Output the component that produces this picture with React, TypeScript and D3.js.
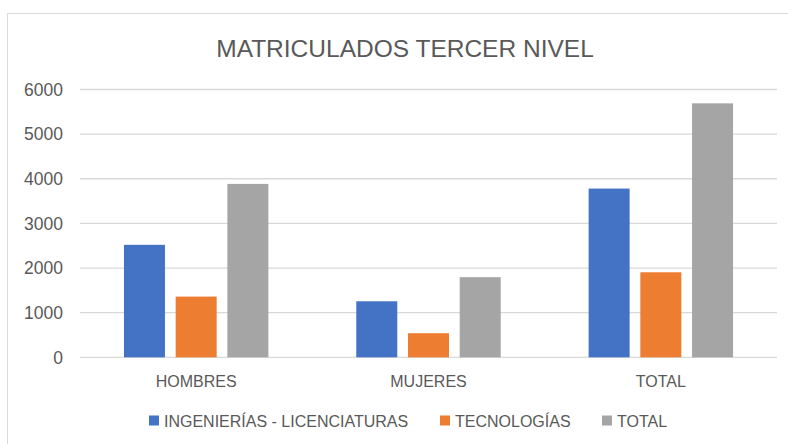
import * as d3 from "d3";

const categories = ["HOMBRES", "MUJERES", "TOTAL"];
const seriesNames = ["INGENIERÍAS - LICENCIATURAS", "TECNOLOGÍAS", "TOTAL"];
const ingenierias = [2520, 1255, 3780];
const tecnologias = [1360, 540, 1905];
const totales = [3885, 1795, 5690];
const yTicks = [0, 1000, 2000, 3000, 4000, 5000, 6000];
const colors = ["#4472C4", "#ED7D31", "#A5A5A5"];

const W = 788;
const H = 444;
const plot = { left: 80, right: 777, top: 89.5, bottom: 357.3 };
const font = "'Liberation Sans', Arial, sans-serif";
const textColor = "#595959";

export default function App() {
  const seriesValues = [ingenierias, tecnologias, totales];

  const x = d3.scaleBand().domain(categories).range([plot.left, plot.right]).padding(0);
  const xInner = d3
    .scaleBand()
    .domain(seriesNames.map((_, i) => String(i)))
    .range([0, x.bandwidth()])
    .paddingInner(0.207)
    .paddingOuter(0.85);
  const y = d3.scaleLinear().domain([0, 6000]).range([plot.bottom, plot.top]);

  // legend layout (square + label per item)
  const legendX = [149, 440, 602];

  return (
    <div style={{ position: "fixed", left: 0, top: 0 }}>
      <svg width={W} height={H} style={{ display: "block", background: "#fff" }}>
        {/* chart area border */}
        <rect x={7.5} y={13.5} width={900} height={600} fill="#fff" stroke="#D9D9D9" strokeWidth={1} />

        <text
          x={405}
          y={57}
          textAnchor="middle"
          fontFamily={font}
          fontSize={24.5}
          fill={textColor}
        >
          MATRICULADOS TERCER NIVEL
        </text>

        {/* gridlines + y labels */}
        {yTicks.map((t) => (
          <g key={t}>
            <line x1={plot.left} x2={plot.right} y1={y(t)} y2={y(t)} stroke="#D9D9D9" strokeWidth={1.3} />
            <text
              x={63}
              y={y(t)}
              dy="0.36em"
              textAnchor="end"
              fontFamily={font}
              fontSize={17.5}
              fill={textColor}
            >
              {t}
            </text>
          </g>
        ))}

        {/* bars */}
        {categories.map((c, ci) => (
          <g key={c} transform={`translate(${x(c)},0)`}>
            {seriesValues.map((vals, si) => (
              <rect
                key={si}
                x={xInner(String(si))}
                y={y(vals[ci])}
                width={xInner.bandwidth()}
                height={y(0) - y(vals[ci])}
                fill={colors[si]}
              />
            ))}
          </g>
        ))}

        {/* category labels */}
        {categories.map((c) => (
          <text
            key={c}
            x={(x(c) ?? 0) + x.bandwidth() / 2}
            y={387}
            textAnchor="middle"
            fontFamily={font}
            fontSize={16}
            fill={textColor}
          >
            {c}
          </text>
        ))}

        {/* legend */}
        {seriesNames.map((s, i) => (
          <g key={s} transform={`translate(${legendX[i]},0)`}>
            <rect x={0} y={415.5} width={10} height={10} fill={colors[i]} />
            <text x={15} y={427} fontFamily={font} fontSize={16} fill={textColor}>
              {s}
            </text>
          </g>
        ))}
      </svg>
    </div>
  );
}
